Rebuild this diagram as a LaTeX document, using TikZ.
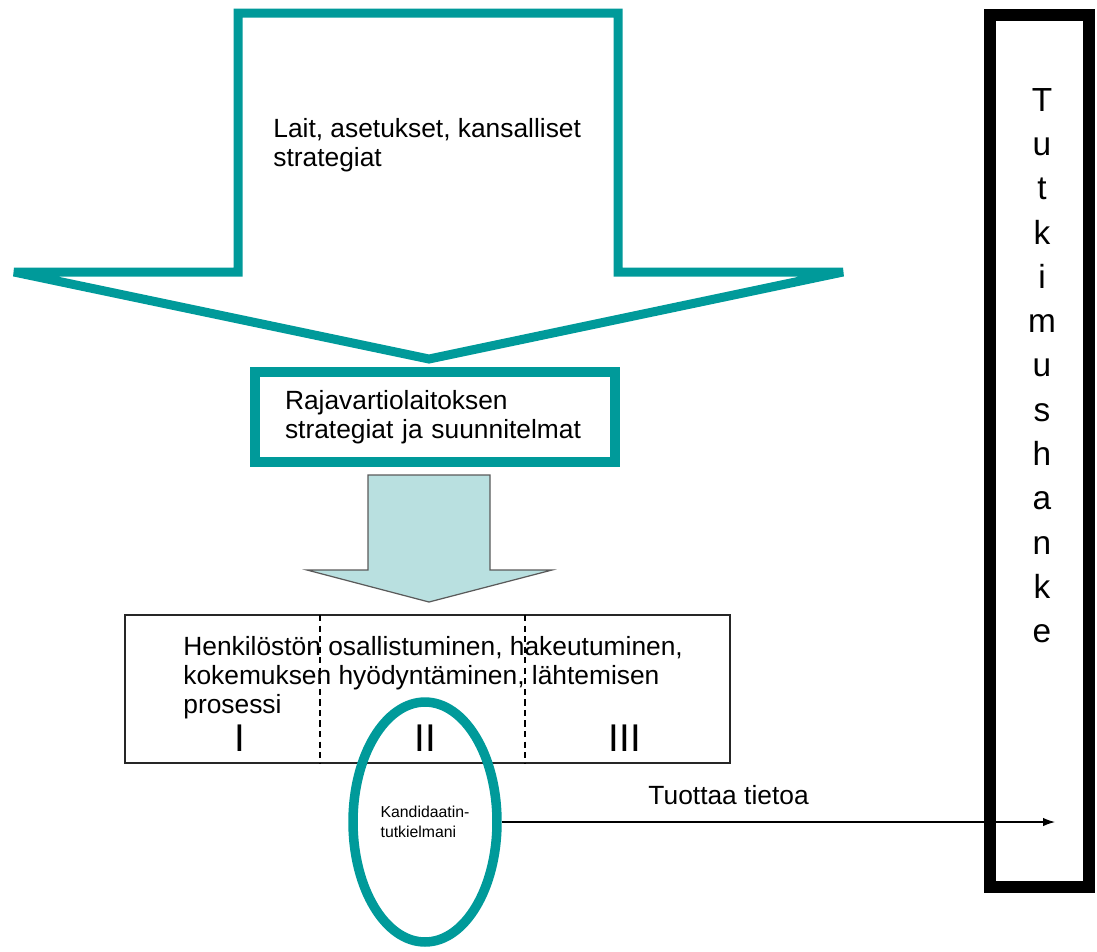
\documentclass[tikz,border=0pt]{standalone}
\usepackage{fontspec}
\setmainfont{Liberation Sans}
\usetikzlibrary{shapes.geometric,arrows.meta}
\definecolor{tealline}{HTML}{009A9A}
\definecolor{paleteal}{HTML}{B9E0E0}
\definecolor{darkrim}{HTML}{5A5A5A}
\begin{document}
\begin{tikzpicture}[
      x=0.02cm, y=-0.02cm,
      bigarrow/.style={
        draw=tealline, line width=0.18cm, fill=white,
        line join=miter, miter limit=3
      },
      smallarrow/.style={draw=darkrim, line width=0.7pt, fill=paleteal},
      tealbox/.style={
        draw=tealline, line width=0.19cm, fill=white, align=left,
        text width=6cm, inner xsep=0.6cm, minimum height=1.8cm,
        font=\fontsize{15}{16.5}\selectfont
      },
      stagebox/.style={draw=black!85, line width=0.7pt, minimum width=12.1cm, minimum height=2.96cm},
      divider/.style={black, line width=0.6pt, dash pattern=on 3.5pt off 2.5pt},
      thesis/.style={
        ellipse, draw=tealline, line width=0.19cm, minimum width=2.88cm,
        minimum height=4.8cm, inner sep=0pt, align=left,
        font=\fontsize{9}{11.5}\selectfont
      },
      projbox/.style={draw=black, line width=0.24cm, minimum width=1.98cm, minimum height=17.44cm},
      body/.style={font=\fontsize{15}{16.5}\selectfont, align=left, inner sep=0pt},
      numeral/.style={font=\fontsize{22}{24}\selectfont, inner sep=0pt},
      vertword/.style={font=\fontsize{19}{25.2}\selectfont, align=center, inner sep=0pt},
      feed/.style={-{Latex[length=0.24cm, width=0.17cm]}, line width=0.7pt, black}
    ]
    \useasboundingbox (0,0) rectangle (1097,951);

    % Big outlined arrow with the laws, and the strategy box below it.
    \draw[bigarrow] (238,13) -- (618,13) -- (618,272) -- (843,272)
      -- (429,359) -- (14,272) -- (238,272) -- cycle;
    \node[body, anchor=north west] (laws) at (273,118)
      {Lait, asetukset, kansalliset\\strategiat};

    \node[tealbox] (plans) at (435,417)
      {Rajavartiolaitoksen\\strategiat ja suunnitelmat};

    % Filled arrow down to the process.
    \draw[smallarrow] (368,475) -- (490,475) -- (490,570) -- (552,570)
      -- (429,602) -- (307,570) -- (368,570) -- cycle;

    % Process box split in three phases.
    \node[stagebox] (stage) at (427.5,689) {};
    \draw[divider] (320,615) -- (320,763);
    \draw[divider] (525,615) -- (525,763);
    \node[body, anchor=north west] (process) at (183,636)
      {Henkilöstön osallistuminen, hakeutuminen,\\kokemuksen hyödyntäminen, lähtemisen\\prosessi};
    \node[numeral, anchor=base] (ph1) at (240,751) {I};
    \node[numeral, anchor=base] (ph2) at (425,751) {II};
    \node[numeral, anchor=base] (ph3) at (625,751) {III};

    % Thesis and the research project.
    \node[thesis] (thesis) at (425,822) {Kandidaatin-\\tutkielmani};
    \node[projbox] (project) at (1039.5,451) {};
    \node[vertword, anchor=north] (projname) at (1042,88)
      {T\\u\\t\\k\\i\\m\\u\\s\\h\\a\\n\\k\\e};
    \coordinate (hit) at (1055,822);

    \draw[feed] (thesis.east) -- node[body, above=0.34cm, pos=0.41] (feedlbl) {Tuottaa tietoa} (hit);
  \end{tikzpicture}
\end{document}
